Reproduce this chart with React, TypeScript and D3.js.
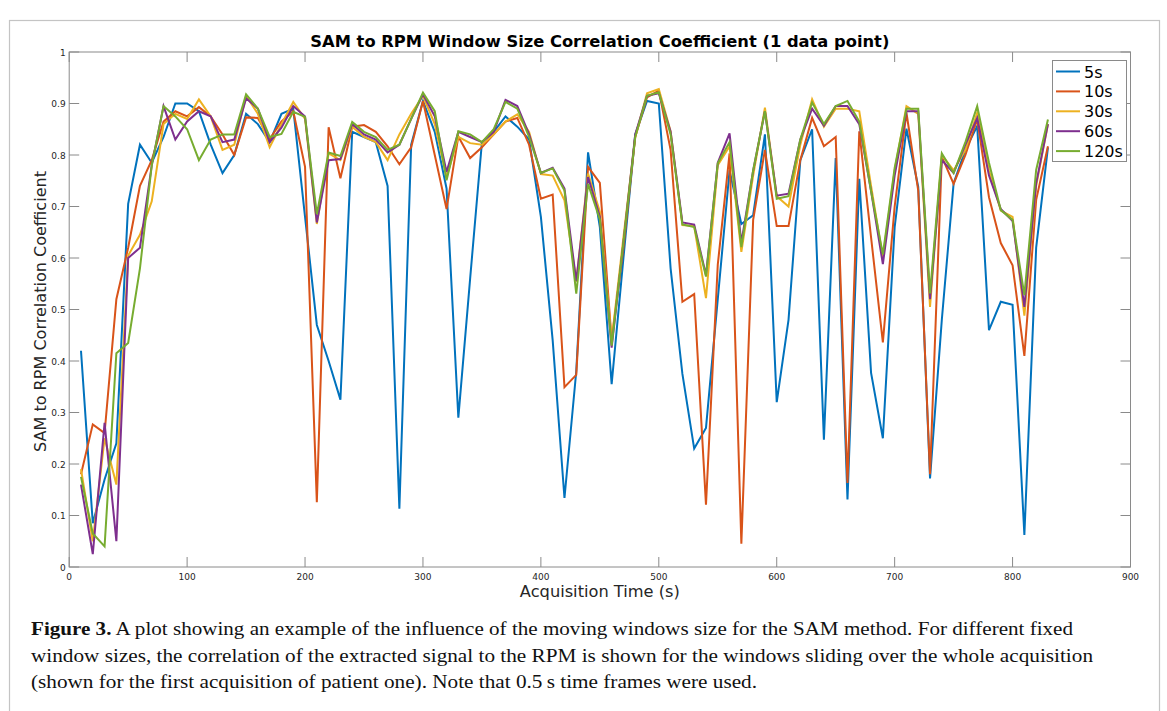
import { line, scaleLinear } from "d3";

const times = [
  10, 20, 30, 40, 50, 60, 70, 80, 90, 100, 110, 120, 130, 140, 150, 160, 170, 180, 190, 200,
  210, 220, 230, 240, 250, 260, 270, 280, 290, 300, 310, 320, 330, 340, 350, 360, 370, 380, 390, 400,
  410, 420, 430, 440, 450, 460, 470, 480, 490, 500, 510, 520, 530, 540, 550, 560, 570, 580, 590, 600,
  610, 620, 630, 640, 650, 660, 670, 680, 690, 700, 710, 720, 730, 740, 750, 760, 770, 780, 790, 800,
  810, 820, 830,
];

const win5s = [
  0.42, 0.085, 0.17, 0.24, 0.705, 0.82, 0.785, 0.835, 0.9, 0.9, 0.885, 0.82, 0.765, 0.8, 0.88, 0.86, 0.825, 0.88, 0.89, 0.68,
  0.47, 0.4, 0.325, 0.845, 0.835, 0.825, 0.74, 0.113, 0.82, 0.905, 0.845, 0.735, 0.29, 0.56, 0.825, 0.845, 0.875, 0.855, 0.83, 0.68,
  0.44, 0.134, 0.38, 0.805, 0.66, 0.355, 0.6, 0.84, 0.905, 0.9, 0.58, 0.375, 0.23, 0.27, 0.52, 0.77, 0.666, 0.683, 0.84, 0.32,
  0.48, 0.79, 0.85, 0.247, 0.794, 0.131, 0.754, 0.377, 0.25, 0.66, 0.851, 0.738, 0.172, 0.48, 0.745, 0.81, 0.856, 0.46, 0.515, 0.509,
  0.062, 0.62, 0.815,
];

const win10s = [
  0.18, 0.277, 0.26, 0.52, 0.62, 0.74, 0.79, 0.865, 0.885, 0.875, 0.893, 0.875, 0.84, 0.8, 0.873, 0.872, 0.831, 0.865, 0.885, 0.777,
  0.126, 0.854, 0.755, 0.855, 0.858, 0.845, 0.817, 0.782, 0.815, 0.905, 0.8, 0.695, 0.836, 0.794, 0.815, 0.84, 0.865, 0.872, 0.82, 0.715,
  0.723, 0.349, 0.373, 0.777, 0.746, 0.44, 0.62, 0.835, 0.912, 0.925, 0.81, 0.515, 0.53, 0.121, 0.587, 0.803, 0.045, 0.674, 0.81, 0.662,
  0.662, 0.79, 0.872, 0.817, 0.835, 0.163, 0.846, 0.64, 0.436, 0.7, 0.882, 0.731, 0.18, 0.797, 0.744, 0.8, 0.869, 0.718, 0.629, 0.586,
  0.41, 0.713, 0.817,
];

const win30s = [
  0.19, 0.05, 0.25, 0.16, 0.605, 0.645, 0.71, 0.86, 0.88, 0.87, 0.908, 0.875, 0.81, 0.82, 0.915, 0.88, 0.815, 0.86, 0.903, 0.87,
  0.666, 0.803, 0.79, 0.855, 0.835, 0.825, 0.79, 0.84, 0.88, 0.915, 0.86, 0.757, 0.835, 0.823, 0.82, 0.84, 0.865, 0.879, 0.845, 0.763,
  0.76, 0.712, 0.554, 0.764, 0.69, 0.44, 0.64, 0.835, 0.92, 0.928, 0.846, 0.664, 0.662, 0.522, 0.78, 0.817, 0.612, 0.76, 0.892, 0.72,
  0.7, 0.82, 0.908, 0.855, 0.89, 0.89, 0.885, 0.74, 0.6, 0.77, 0.895, 0.88, 0.505, 0.8, 0.77, 0.81, 0.882, 0.77, 0.692, 0.68,
  0.488, 0.74, 0.86,
];

const win60s = [
  0.16, 0.025, 0.28, 0.05, 0.6, 0.62, 0.78, 0.895, 0.83, 0.865, 0.885, 0.875, 0.825, 0.83, 0.91, 0.89, 0.825, 0.853, 0.895, 0.875,
  0.669, 0.79, 0.792, 0.86, 0.84, 0.83, 0.805, 0.82, 0.87, 0.918, 0.875, 0.767, 0.845, 0.835, 0.825, 0.845, 0.907, 0.895, 0.84, 0.765,
  0.775, 0.735, 0.555, 0.757, 0.68, 0.426, 0.63, 0.84, 0.915, 0.92, 0.845, 0.669, 0.665, 0.567, 0.785, 0.842, 0.63, 0.77, 0.885, 0.721,
  0.725, 0.83, 0.89, 0.857, 0.895, 0.895, 0.86, 0.73, 0.588, 0.76, 0.885, 0.885, 0.52, 0.79, 0.765, 0.82, 0.872, 0.76, 0.695, 0.672,
  0.505, 0.745, 0.86,
];

const win120s = [
  0.175, 0.065, 0.04, 0.415, 0.435, 0.58, 0.78, 0.895, 0.875, 0.85, 0.79, 0.83, 0.84, 0.84, 0.918, 0.89, 0.835, 0.841, 0.884, 0.874,
  0.685, 0.805, 0.798, 0.864, 0.845, 0.835, 0.81, 0.82, 0.87, 0.921, 0.885, 0.751, 0.846, 0.84, 0.825, 0.85, 0.903, 0.89, 0.835, 0.765,
  0.774, 0.731, 0.531, 0.744, 0.675, 0.43, 0.63, 0.835, 0.915, 0.922, 0.84, 0.665, 0.66, 0.564, 0.784, 0.825, 0.621, 0.77, 0.885, 0.715,
  0.72, 0.83, 0.902, 0.86, 0.895, 0.905, 0.865, 0.73, 0.607, 0.775, 0.89, 0.89, 0.531, 0.803, 0.765, 0.825, 0.895, 0.785, 0.693, 0.674,
  0.528, 0.771, 0.869,
];

const seriesNames = ["5s", "10s", "30s", "60s", "120s"];
const seriesValues = [win5s, win10s, win30s, win60s, win120s];
const seriesColors = ["#0072BD", "#D95319", "#EDB120", "#7E2F8E", "#77AC30"];

const xTicks = [0, 100, 200, 300, 400, 500, 600, 700, 800, 900];
const yTicks = [0, 0.1, 0.2, 0.3, 0.4, 0.5, 0.6, 0.7, 0.8, 0.9, 1];

const titleText = "SAM to RPM Window Size Correlation Coefficient (1 data point)";
const xLabel = "Acquisition Time (s)";
const yLabel = "SAM to RPM Correlation Coefficient";

const captionLines = [
  { bold: "Figure 3.", rest: " A plot showing an example of the influence of the moving windows size for the SAM method. For different fixed", len: 1042 },
  { bold: "", rest: "window sizes, the correlation of the extracted signal to the RPM is shown for the windows sliding over the whole acquisition", len: 1062 },
  { bold: "", rest: "(shown for the first acquisition of patient one). Note that 0.5\u2009s time frames were used.", len: 726 },
];

const W = 1167;
const H = 711;
const left = 69.2;
const right = 1130.5;
const top = 52;
const bottom = 567;
const tickLen = 10;
const axisColor = "#8a8a8a";
const labelColor = "#262626";
const sans = "DejaVu Sans, sans-serif";

export default function App() {
  const x = scaleLinear().domain([0, 900]).range([left, right]);
  const y = scaleLinear().domain([0, 1]).range([bottom, top]);

  const makeLine = (vals: number[]) =>
    line<number>()
      .x((_, i) => x(times[i]))
      .y((d) => y(d))(vals) ?? "";

  return (
    <svg
      width={W}
      height={H}
      style={{ position: "absolute", left: 0, top: 0, background: "#fff" }}
    >
      {/* paper figure frame */}
      <rect x={9.5} y={20.5} width={1150} height={720} fill="none" stroke="#c4c4c4" strokeWidth={1.2} />

      {/* axes box */}
      <rect x={left} y={top} width={right - left} height={bottom - top} fill="#fff" stroke={axisColor} strokeWidth={1} />

      {xTicks.map((t) => (
        <g key={`xt-${t}`}>
          <line x1={x(t)} x2={x(t)} y1={bottom} y2={bottom - tickLen} stroke={axisColor} />
          <line x1={x(t)} x2={x(t)} y1={top} y2={top + tickLen} stroke={axisColor} />
          <text x={x(t)} y={bottom + 13} textAnchor="middle" fontSize={9} fontFamily={sans} fill={labelColor}>
            {t}
          </text>
        </g>
      ))}

      {yTicks.map((v) => (
        <g key={`yt-${v}`}>
          <line x1={left} x2={left + tickLen} y1={y(v)} y2={y(v)} stroke={axisColor} />
          <line x1={right} x2={right - tickLen} y1={y(v)} y2={y(v)} stroke={axisColor} />
          <text x={left - 3.5} y={y(v) + 3.5} textAnchor="end" fontSize={9} fontFamily={sans} fill={labelColor}>
            {String(v)}
          </text>
        </g>
      ))}

      {seriesValues.map((vals, i) => (
        <path
          key={`line-${seriesNames[i]}`}
          d={makeLine(vals)}
          fill="none"
          stroke={seriesColors[i]}
          strokeWidth={2}
          strokeLinejoin="miter"
        />
      ))}

      {/* legend */}
      <rect x={1052.5} y={60.5} width={74} height={101} fill="#fff" stroke={axisColor} />
      {seriesNames.map((name, i) => (
        <g key={`leg-${name}`} transform={`translate(0, ${71.5 + i * 19.9})`}>
          <line x1={1056} x2={1080} y1={0} y2={0} stroke={seriesColors[i]} strokeWidth={2} />
          <text x={1084} y={6} fontSize={16} fontFamily={sans} fill="#000">
            {name}
          </text>
        </g>
      ))}

      <text
        x={(left + right) / 2}
        y={47}
        textAnchor="middle"
        fontSize={15}
        fontWeight="bold"
        fontFamily={sans}
        fill="#000"
        textLength={579}
        lengthAdjust="spacingAndGlyphs"
      >
        {titleText}
      </text>

      <text
        x={(left + right) / 2}
        y={597}
        textAnchor="middle"
        fontSize={15.5}
        fontFamily={sans}
        fill={labelColor}
        textLength={160}
        lengthAdjust="spacingAndGlyphs"
      >
        {xLabel}
      </text>

      <text
        transform={`translate(45.5, ${(171 + 452) / 2}) rotate(-90)`}
        textAnchor="middle"
        fontSize={15.5}
        fontFamily={sans}
        fill={labelColor}
        textLength={281}
        lengthAdjust="spacingAndGlyphs"
      >
        {yLabel}
      </text>

      {captionLines.map((c, i) => (
        <text
          key={`cap-${i}`}
          x={31}
          y={635 + i * 26.5}
          fontSize={19}
          fontFamily="Liberation Serif, serif"
          fill="#111"
          textLength={c.len}
          lengthAdjust="spacingAndGlyphs"
        >
          {c.bold && <tspan fontWeight="bold">{c.bold}</tspan>}
          {c.rest}
        </text>
      ))}
    </svg>
  );
}
